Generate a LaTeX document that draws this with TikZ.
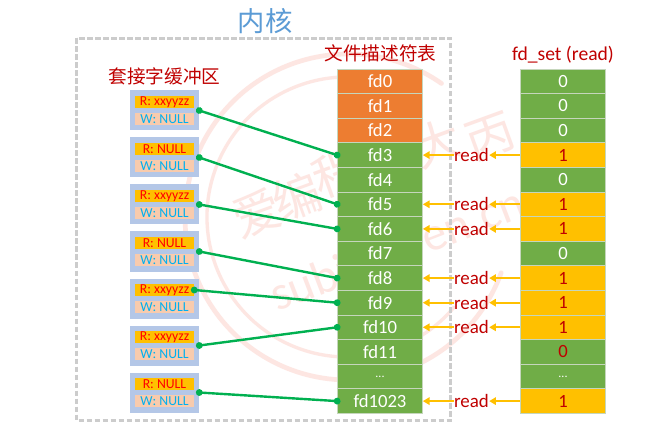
\documentclass[tikz,border=0pt]{standalone}
\usepackage{fontspec}
\setmainfont{Carlito}
\newfontfamily\cjk{Noto Sans CJK SC}
\usetikzlibrary{arrows.meta,calc}
\definecolor{gr}{HTML}{70AD47}
\definecolor{org}{HTML}{ED7D31}
\definecolor{amb}{HTML}{FFC000}
\definecolor{conn}{HTML}{00B050}
\definecolor{dred}{HTML}{C00000}
\definecolor{sky}{HTML}{00B0F0}
\definecolor{ttl}{HTML}{5B9BD5}
\definecolor{sockbg}{HTML}{B4C7E7}
\definecolor{wbg}{HTML}{F8CBAD}
\definecolor{wm}{HTML}{FDE6E2}
\definecolor{sep}{HTML}{C5D6BC}
\newcommand{\eld}{\raisebox{-1pt}{\fontsize{9}{9}\selectfont...}}
\tikzset{
 x=0.75pt,y=-0.75pt,
 cell/.style={minimum width=63.75pt,minimum height=18.45pt,inner sep=0pt,draw=sep,line width=.5pt,text=white,font=\fontsize{14}{14}\selectfont,anchor=center},
 onecell/.style={cell,fill=amb,text=dred},
 sockbox/.style={minimum width=51.75pt,minimum height=30pt,inner sep=0pt,fill=sockbg},
 rbar/.style={minimum width=44.25pt,minimum height=9.4pt,inner sep=0pt,fill=amb,text=red,font=\fontsize{10.3}{10.3}\selectfont},
 wbar/.style={minimum width=44.25pt,minimum height=9.4pt,inner sep=0pt,fill=wbg,text=sky,font=\fontsize{10.3}{10.3}\selectfont},
 link/.style={draw=conn,line width=1.8pt,{Circle[length=5pt]}-{Circle[length=5pt]},shorten <=-2.5pt,shorten >=-2.5pt},
 readlink/.style={draw=amb,line width=1.4pt,-{Triangle[length=5pt,width=5.5pt]}},
 readlabel/.style={text=dred,font=\fontsize{14.2}{14.2}\selectfont,inner sep=0pt,minimum width=26pt,minimum height=12pt},
 heading/.style={text=dred,font=\cjk\fontsize{14}{14}\selectfont,inner sep=0pt},
 wmchar/.style={wm,font=\cjk\fontsize{36}{36}\selectfont,rotate=20,inner sep=0pt}
}
\begin{document}
\begin{tikzpicture}
\useasboundingbox (0,0) rectangle (648,441);
\fill[white] (0,0) rectangle (648,441);
% watermark
\draw[wm,line width=3.5pt,line cap=round] (348,217) ++(55:122.25pt) arc[start angle=55,end angle=340,radius=122.25pt];
\draw[wm,line width=2.5pt,line cap=round] (347,217) ++(70:105pt) arc[start angle=70,end angle=320,radius=105pt];
\node[wmchar] (w1) at (257,213) {爱};
\node[wmchar] (w2) at (297,197) {编};
\node[wmchar] (w3) at (337,173) {程};
\node[wmchar] (w4) at (387,163) {的};
\node[wmchar] (w5) at (437,143) {大};
\node[wmchar] (w6) at (490,137) {丙};
\node[wm,font=\fontsize{36}{36}\selectfont,rotate=21,inner sep=0pt] (w7) at (398,252) {subingwen.cn};
% kernel frame
\draw[black!20,line width=1.6pt,dash pattern=on 4pt off 2pt] (76.5,38.5) rectangle (450.5,420.5);
\node[text=ttl,font=\cjk\fontsize{20.5}{20.5}\selectfont,inner sep=0pt] (title) at (265,21) {内核};
\node[heading] (bufhead) at (164.5,76) {套接字缓冲区};
\node[heading] (tabhead) at (380.5,53) {文件描述符表};
\node[text=dred,font=\fontsize{14.7}{14.7}\selectfont,inner sep=0pt] (sethead) at (563,55) {fd\_set (read)};
% fd table
\foreach \i/\t/\c in {0/fd0/org,1/fd1/org,2/fd2/org,3/fd3/gr,4/fd4/gr,5/fd5/gr,6/fd6/gr,7/fd7/gr,8/fd8/gr,9/fd9/gr,10/fd10/gr,11/fd11/gr,12/\eld/gr,13/fd1023/gr}
  \node[cell,fill=\c] (f\i) at (380,{69+24.6*(\i+.5)}) {\t};
% fd_set
\foreach \i/\t in {0/0,1/0,2/0,4/0,7/0,12/\eld}
  \node[cell,fill=gr] (s\i) at (563,{69+24.6*(\i+.5)}) {\t};
\node[cell,fill=gr,text=dred] (s11) at (563,{69+24.6*11.5}) {0};
\foreach \i in {3,5,6,8,9,10,13}
  \node[onecell] (s\i) at (563,{69+24.6*(\i+.5)}) {1};
% read arrows
\foreach \i in {3,5,6,8,9,10,13}{
  \node[readlabel] (r\i) at (471.5,{69+24.6*(\i+.5)}) {read};
  \draw[readlink] (s\i.west) -- (r\i.east);
  \draw[readlink] (r\i.west) -- (f\i.east);
}
% sockets
\foreach \i/\t in {0/R: xxyyzz,1/R: NULL,2/R: xxyyzz,3/R: NULL,4/R: xxyyzz,5/R: xxyyzz,6/R: NULL}{
  \node[sockbox] (b\i) at (164.5,{110.5+47*\i}) {};
  \node[rbar] (br\i) at (164.5,{102+47*\i}) {\t};
  \node[wbar] (bw\i) at (164.5,{119+47*\i}) {W: NULL};
}
% connectors
\draw[link] (b0.east) -- (f3.west);
\draw[link] (b1.east) -- (f5.west);
\draw[link] (b2.east) -- (f6.west);
\draw[link] (b3.east) -- (f8.west);
\draw[link] (br4.east) -- (f9.west);
\draw[link] (b5.east) -- (f10.west);
\draw[link] (b6.east) -- (f13.west);
\end{tikzpicture}
\end{document}
